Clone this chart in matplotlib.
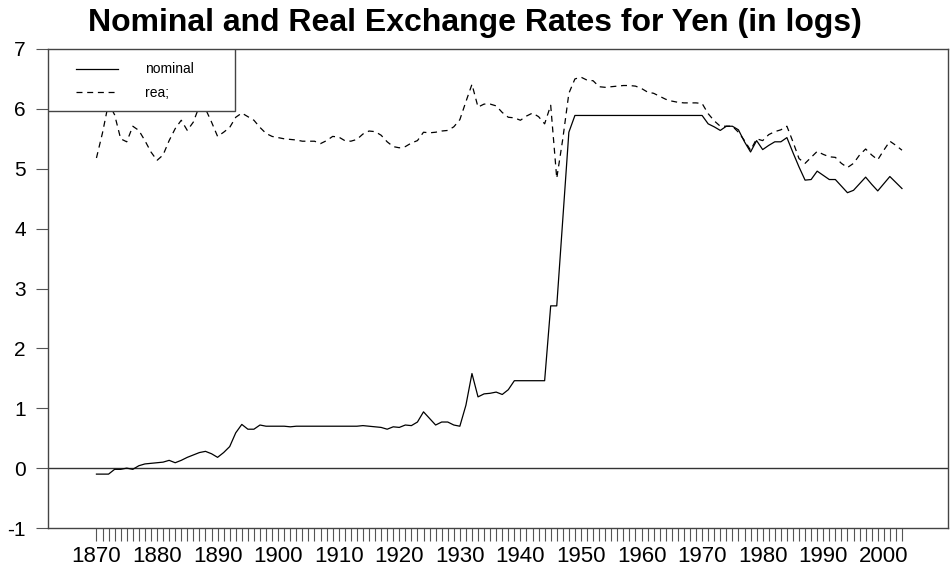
import matplotlib
matplotlib.use("Agg")
import matplotlib.pyplot as plt
from matplotlib.patches import Rectangle

# Yen exchange rates (logs), annual 1870-2003
years = list(range(1870, 2004))

nominal = [
    -0.10, -0.10, -0.10, -0.02, -0.02, 0.00, -0.02, 0.04, 0.07, 0.08,  # 1870s
    0.09, 0.10, 0.13, 0.09, 0.13, 0.18, 0.22, 0.26, 0.28, 0.24,  # 1880s
    0.18, 0.26, 0.36, 0.59, 0.73, 0.65, 0.65, 0.72, 0.70, 0.70,  # 1890s
    0.70, 0.70, 0.69, 0.70, 0.70, 0.70, 0.70, 0.70, 0.70, 0.70,  # 1900s
    0.70, 0.70, 0.70, 0.70, 0.71, 0.70, 0.69, 0.68, 0.65, 0.69,  # 1910s
    0.68, 0.72, 0.71, 0.77, 0.94, 0.83, 0.72, 0.77, 0.77, 0.72,  # 1920s
    0.70, 1.05, 1.58, 1.19, 1.24, 1.25, 1.27, 1.23, 1.31, 1.46,  # 1930s
    1.46, 1.46, 1.46, 1.46, 1.46, 2.71, 2.71, 4.15, 5.61, 5.89,  # 1940s
    5.89, 5.89, 5.89, 5.89, 5.89, 5.89, 5.89, 5.89, 5.89, 5.89,  # 1950s
    5.89, 5.89, 5.89, 5.89, 5.89, 5.89, 5.89, 5.89, 5.89, 5.89,  # 1960s
    5.89, 5.75, 5.70, 5.64, 5.71, 5.71, 5.65, 5.45, 5.28, 5.47,  # 1970s
    5.32, 5.39, 5.45, 5.45, 5.52, 5.27, 5.03, 4.81, 4.82, 4.96,  # 1980s
    4.89, 4.82, 4.82, 4.71, 4.60, 4.64, 4.75, 4.86, 4.74, 4.63,  # 1990s
    4.75, 4.87, 4.77, 4.67,  # 2000s
]

real = [
    5.18, 5.60, 6.10, 5.90, 5.50, 5.45, 5.71, 5.64, 5.47, 5.28,  # 1870s
    5.14, 5.23, 5.47, 5.67, 5.81, 5.64, 5.78, 6.05, 6.00, 5.78,  # 1880s
    5.54, 5.61, 5.69, 5.86, 5.93, 5.87, 5.81, 5.69, 5.59, 5.54,  # 1890s
    5.52, 5.50, 5.49, 5.48, 5.46, 5.46, 5.46, 5.42, 5.47, 5.54,  # 1900s
    5.53, 5.47, 5.46, 5.49, 5.58, 5.63, 5.62, 5.56, 5.45, 5.37,  # 1910s
    5.35, 5.37, 5.43, 5.47, 5.61, 5.60, 5.61, 5.63, 5.64, 5.70,  # 1920s
    5.82, 6.12, 6.41, 6.03, 6.08, 6.08, 6.05, 5.94, 5.86, 5.85,  # 1930s
    5.81, 5.88, 5.93, 5.87, 5.75, 6.06, 4.84, 5.50, 6.26, 6.50,  # 1940s
    6.53, 6.48, 6.47, 6.37, 6.36, 6.37, 6.38, 6.39, 6.39, 6.38,  # 1950s
    6.34, 6.28, 6.26, 6.21, 6.16, 6.13, 6.11, 6.10, 6.10, 6.10,  # 1960s
    6.09, 5.92, 5.80, 5.71, 5.71, 5.71, 5.61, 5.47, 5.31, 5.50,  # 1970s
    5.47, 5.57, 5.62, 5.65, 5.71, 5.45, 5.17, 5.09, 5.19, 5.29,  # 1980s
    5.24, 5.20, 5.19, 5.09, 5.02, 5.09, 5.23, 5.33, 5.23, 5.15,  # 1990s
    5.31, 5.46, 5.39, 5.31,  # 2000s
]

yticks = [-1, 0, 1, 2, 3, 4, 5, 6, 7]
xlabel_years = [1870, 1880, 1890, 1900, 1910, 1920, 1930, 1940, 1950, 1960, 1970, 1980, 1990, 2000]

plt.rcParams["font.family"] = ["Liberation Sans", "DejaVu Sans"]
plt.rcParams["lines.scale_dashes"] = False

fig = plt.figure(figsize=(9.5, 5.66), dpi=100)
ax = fig.add_axes([48 / 950, 38 / 566, 900 / 950, 479 / 566])

ax.plot(years, nominal, color="black", lw=0.9, label="nominal", zorder=2)
ax.plot(years, real, color="black", lw=0.9, dashes=(4.3, 3.4), label="rea;", zorder=2)
ax.axhline(0, color="#333333", lw=1.0, zorder=1)

ax.set_xlim(1862.0, 2010.6)
ax.set_ylim(-1, 7)
ax.set_yticks(yticks)
ax.set_yticklabels([str(v) for v in yticks])

ax.set_xticks(years)
ax.set_xticklabels([str(y) if y in xlabel_years else "" for y in years])
ax.tick_params(axis="x", direction="out", length=9, width=0.8, color="#555555",
               labelsize=16, pad=4)
ax.tick_params(axis="y", direction="out", length=9, width=0.8, color="#555555",
               labelsize=15, pad=7)

for side in ["left", "right", "top", "bottom"]:
    ax.spines[side].set_color("#444444")
    ax.spines[side].set_linewidth(1.0)

# legend box in the top-left corner
box = Rectangle((0, 0.8706), 0.2078, 0.1294, transform=ax.transAxes,
                facecolor="white", edgecolor="#444444", lw=1.0, zorder=3)
ax.add_patch(box)
leg = ax.legend(loc="upper left", bbox_to_anchor=(0.0311, 0.972), frameon=False,
                borderpad=0, borderaxespad=0, fontsize=10, handlelength=3.0,
                handletextpad=2.0, labelspacing=0.7)
leg.set_zorder(4)

fig.text(0.5, 1 - 30.7 / 566, "Nominal and Real Exchange Rates for Yen (in logs)",
         ha="center", va="baseline", fontsize=23, fontweight="bold")

fig.savefig("out.png", dpi=100)
